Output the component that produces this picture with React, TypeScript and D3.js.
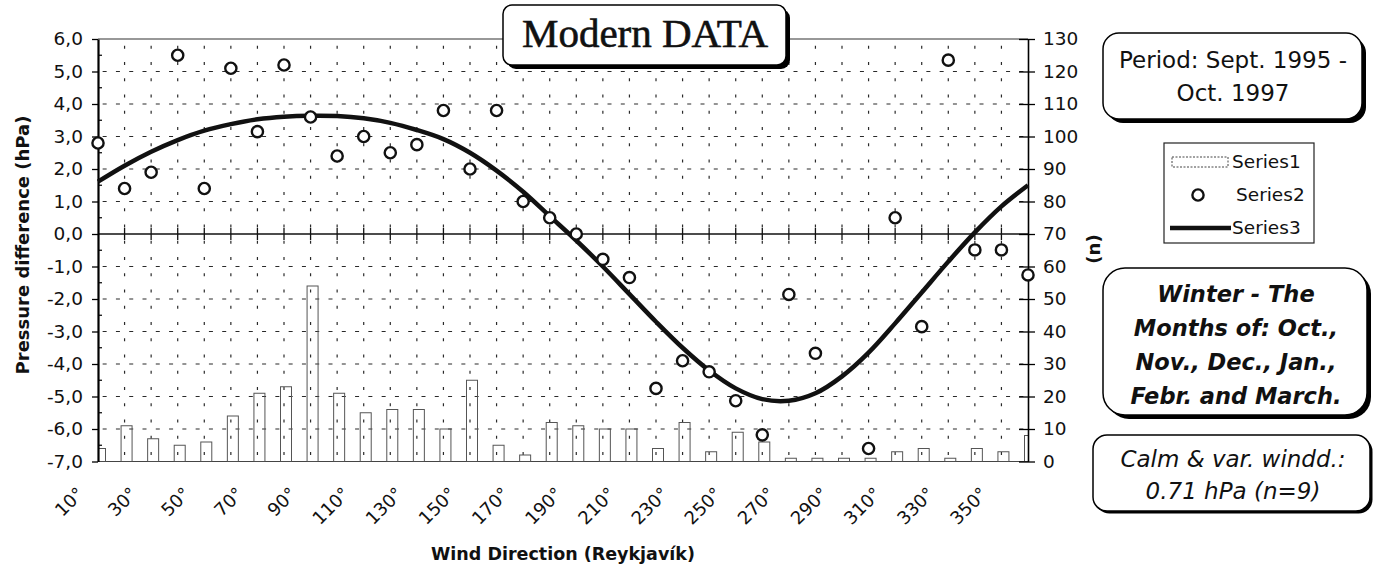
import React, { useEffect, useRef } from 'react'
import * as d3 from 'd3'

// wind direction categories (degrees)
const directions = [10, 20, 30, 40, 50, 60, 70, 80, 90, 100, 110, 120, 130, 140, 150, 160, 170, 180,
  190, 200, 210, 220, 230, 240, 250, 260, 270, 280, 290, 300, 310, 320, 330, 340, 350, 360]

// Series1: number of cases (right axis)
const counts = [4, 11, 7, 5, 6, 14, 21, 23, 54, 21, 15, 16, 16, 10, 25, 5, 2, 12,
  11, 10, 10, 4, 12, 3, 9, 6, 1, 1, 1, 1, 3, 4, 1, 4, 3, 8]

// Series2: measured pressure difference (hPa, left axis); null = no value
const pressure: (number | null)[] = [2.8, 1.4, 1.9, 5.5, 1.4, 5.1, 3.15, 5.2, 3.6, 2.4, 3.0, 2.5, 2.75, 3.8, 2.0, 3.8, 1.0, 0.5,
  0.0, -0.78, -1.34, -4.75, -3.9, -4.24, -5.13, -6.18, -1.86, -3.67, null, -6.6, 0.5, -2.85, 5.35, -0.49, -0.49, -1.26]

// Series3: fitted curve (hPa, left axis)
const fitted = [1.61, 2.1, 2.53, 2.89, 3.18, 3.38, 3.53, 3.61, 3.64, 3.63, 3.56, 3.42, 3.2, 2.92, 2.5, 1.95, 1.3, 0.55,
  -0.2, -1.0, -1.85, -2.7, -3.5, -4.2, -4.75, -5.08, -5.13, -4.9, -4.38, -3.65, -2.75, -1.8, -0.85, 0.05, 0.85, 1.5]

const leftTicks = [-7, -6, -5, -4, -3, -2, -1, 0, 1, 2, 3, 4, 5, 6]
const rightTicks = [0, 10, 20, 30, 40, 50, 60, 70, 80, 90, 100, 110, 120, 130]
const labelDirections = [10, 30, 50, 70, 90, 110, 130, 150, 170, 190, 210, 230, 250, 270, 290, 310, 330, 350]

const W = 1381
const H = 567
const plot = { left: 98, right: 1028, top: 39, bottom: 461.5 }
const sans = '"DejaVu Sans", sans-serif'

function box(g: any, x: number, y: number, w: number, h: number, r: number, sh: number) {
  g.append('rect').attr('x', x + sh).attr('y', y + sh).attr('width', w).attr('height', h)
    .attr('rx', r).attr('fill', '#000')
  g.append('rect').attr('x', x).attr('y', y).attr('width', w).attr('height', h)
    .attr('rx', r).attr('fill', '#fff').attr('stroke', '#000').attr('stroke-width', 1.5)
}

export default function App() {
  const ref = useRef<SVGSVGElement>(null)

  useEffect(() => {
    const svg = d3.select(ref.current)
    svg.selectAll('*').remove()

    const x = d3.scalePoint<number>().domain(directions).range([plot.left, plot.right])
    const step = x.step()
    const yL = d3.scaleLinear().domain([-7, 6]).range([plot.bottom, plot.top])
    const yR = d3.scaleLinear().domain([0, 130]).range([plot.bottom, plot.top])
    const unit = yL(0) - yL(1)

    svg.append('defs').append('clipPath').attr('id', 'plotClip').append('rect')
      .attr('x', plot.left).attr('y', plot.top)
      .attr('width', plot.right - plot.left).attr('height', plot.bottom - plot.top)

    // grid
    const grid = svg.append('g').attr('stroke', '#2a2a2a').attr('stroke-width', 1.2)
    grid.selectAll('line.h')
      .data(leftTicks.filter(v => v > -7 && v < 6 && v !== 0))
      .enter().append('line')
      .attr('x1', plot.left).attr('x2', plot.right)
      .attr('y1', d => yL(d)).attr('y2', d => yL(d))
      .attr('stroke-dasharray', `4,${step / 2 - 4}`)
      .attr('stroke-dashoffset', -(step / 4 - 2))
    grid.selectAll('line.v')
      .data(directions.slice(1, -1))
      .enter().append('line')
      .attr('x1', d => x(d)!).attr('x2', d => x(d)!)
      .attr('y1', plot.top).attr('y2', plot.bottom)
      .attr('stroke-dasharray', `3,${unit / 2 - 3}`)
      .attr('stroke-dashoffset', -(unit / 4 - 1.5))

    // frame
    svg.append('line').attr('x1', plot.left).attr('x2', plot.right)
      .attr('y1', plot.top).attr('y2', plot.top).attr('stroke', '#333').attr('stroke-width', 1.2)
    svg.append('line').attr('x1', plot.left).attr('x2', plot.right)
      .attr('y1', plot.bottom).attr('y2', plot.bottom).attr('stroke', '#444').attr('stroke-width', 1.2)

    // Series1 bars
    const barW = 11
    svg.append('g').attr('clip-path', 'url(#plotClip)')
      .selectAll('rect')
      .data(directions.map((d, i) => ({ d, n: counts[i] })))
      .enter().append('rect')
      .attr('x', v => x(v.d)! + 2 - barW / 2)
      .attr('y', v => yR(v.n))
      .attr('width', barW)
      .attr('height', v => yR(0) - yR(v.n))
      .attr('fill', 'none')
      .attr('stroke', '#555')
      .attr('stroke-width', 1)

    // zero axis with crossing ticks
    svg.append('line').attr('x1', plot.left).attr('x2', plot.right)
      .attr('y1', yL(0)).attr('y2', yL(0)).attr('stroke', '#111').attr('stroke-width', 1.5)
    svg.append('g').selectAll('line')
      .data(directions.slice(1, -1))
      .enter().append('line')
      .attr('x1', d => x(d)!).attr('x2', d => x(d)!)
      .attr('y1', yL(0) - 6).attr('y2', yL(0) + 6)
      .attr('stroke', '#111').attr('stroke-width', 1.3)

    // left axis
    const fmt = (v: number) => d3.format('.1f')(v).replace('.', ',').replace('−', '-')
    const gl = svg.append('g').attr('transform', `translate(${plot.left},0)`)
      .call(d3.axisLeft(yL).tickValues(leftTicks).tickSize(6).tickSizeOuter(0).tickPadding(9)
        .tickFormat(d => fmt(d as number)))
    gl.select('.domain').attr('stroke', '#000').attr('stroke-width', 2.2)
    gl.selectAll('.tick line').attr('stroke', '#000').attr('stroke-width', 1.3)
    gl.selectAll('.tick text').attr('font-family', sans).attr('font-size', 18.5).attr('fill', '#111')
    gl.selectAll('line.minor')
      .data(leftTicks.slice(0, -1))
      .enter().append('line').attr('class', 'minor')
      .attr('x1', 0).attr('x2', 4)
      .attr('y1', d => yL(d + 0.5)).attr('y2', d => yL(d + 0.5))
      .attr('stroke', '#000').attr('stroke-width', 1.2)

    // right axis
    const gr = svg.append('g').attr('transform', `translate(${plot.right},0)`)
      .call(d3.axisRight(yR).tickValues(rightTicks).tickSize(7).tickSizeOuter(0).tickPadding(8))
    gr.select('.domain').attr('stroke', '#000').attr('stroke-width', 1.6)
    gr.selectAll('.tick line').attr('x1', -9).attr('x2', 7).attr('stroke', '#000').attr('stroke-width', 1.3)
    gr.selectAll('.tick text').attr('font-family', sans).attr('font-size', 18.5).attr('fill', '#111')

    // Series3 fitted curve
    const line = d3.line<number>()
      .x((_, i) => x(directions[i])!)
      .y(v => yL(v))
      .curve(d3.curveCatmullRom)
    svg.append('path').datum(fitted).attr('d', line)
      .attr('fill', 'none').attr('stroke', '#111').attr('stroke-width', 4.5)

    // Series2 points
    svg.append('g').selectAll('circle')
      .data(directions.map((d, i) => ({ d, v: pressure[i] })).filter(p => p.v !== null))
      .enter().append('circle')
      .attr('cx', p => x(p.d)!)
      .attr('cy', p => yL(p.v as number))
      .attr('r', 5.6)
      .attr('fill', '#fff').attr('stroke', '#111').attr('stroke-width', 2.4)

    // x tick labels
    svg.append('g').selectAll('text')
      .data(labelDirections)
      .enter().append('text')
      .attr('transform', d => `translate(${x(d)! - 13},495) rotate(-45)`)
      .attr('text-anchor', 'end')
      .attr('font-family', sans).attr('font-size', 18).attr('fill', '#111')
      .text(d => `${d}°`)

    // axis titles
    svg.append('text').attr('x', (plot.left + plot.right) / 2).attr('y', 560)
      .attr('text-anchor', 'middle').attr('font-family', sans).attr('font-size', 17.5)
      .attr('font-weight', 'bold').attr('fill', '#111').text('Wind Direction (Reykjavík)')
    svg.append('text').attr('transform', 'translate(28.5,245) rotate(-90)')
      .attr('text-anchor', 'middle').attr('font-family', sans).attr('font-size', 18)
      .attr('font-weight', 'bold').attr('fill', '#111').text('Pressure difference (hPa)')
    svg.append('text').attr('transform', 'translate(1100,249) rotate(-90)')
      .attr('text-anchor', 'middle').attr('font-family', sans).attr('font-size', 18)
      .attr('font-weight', 'bold').attr('fill', '#111').text('(n)')

    // title box
    const tb = svg.append('g')
    box(tb, 503, 5, 283, 60, 9, 4)
    tb.append('text').attr('x', 645).attr('y', 47).attr('text-anchor', 'middle')
      .attr('font-family', '"Liberation Serif", serif').attr('font-size', 41)
      .attr('fill', '#111').attr('stroke', '#111').attr('stroke-width', 0.6)
      .text('Modern DATA')

    // period box
    const pb = svg.append('g')
    box(pb, 1103, 33, 259, 86, 16, 4)
    pb.selectAll('text').data(['Period: Sept. 1995 -', 'Oct. 1997']).enter().append('text')
      .attr('x', 1233).attr('y', (_, i) => 68 + i * 33).attr('text-anchor', 'middle')
      .attr('font-family', sans).attr('font-size', 23).attr('fill', '#111').text(d => d)

    // legend
    const lg = svg.append('g')
    lg.append('rect').attr('x', 1164).attr('y', 143).attr('width', 150).attr('height', 100)
      .attr('fill', '#fff').attr('stroke', '#222').attr('stroke-width', 1.2)
    lg.append('rect').attr('x', 1172).attr('y', 157).attr('width', 56).attr('height', 10)
      .attr('fill', 'none').attr('stroke', '#444').attr('stroke-width', 1).attr('stroke-dasharray', '2,1.5')
    lg.append('circle').attr('cx', 1198).attr('cy', 195).attr('r', 5.6)
      .attr('fill', '#fff').attr('stroke', '#111').attr('stroke-width', 2.4)
    lg.append('line').attr('x1', 1170).attr('x2', 1231).attr('y1', 228).attr('y2', 228)
      .attr('stroke', '#111').attr('stroke-width', 4.5)
    lg.selectAll('text').data(['Series1', 'Series2', 'Series3']).enter().append('text')
      .attr('x', (_, i) => (i === 1 ? 1236 : 1232)).attr('y', (_, i) => 168 + i * 33)
      .attr('font-family', sans).attr('font-size', 18.5).attr('fill', '#111').text(d => d)

    // season box
    const wb = svg.append('g')
    box(wb, 1103, 268, 264, 147, 22, 4)
    wb.selectAll('text')
      .data(['Winter - The', 'Months of: Oct.,', 'Nov., Dec., Jan.,', 'Febr. and March.'])
      .enter().append('text')
      .attr('x', 1236).attr('y', (_, i) => 302 + i * 34).attr('text-anchor', 'middle')
      .attr('font-family', sans).attr('font-size', 22.5).attr('font-weight', 'bold').attr('font-style', 'italic')
      .attr('fill', '#111').text(d => d)

    // calm box
    const cb = svg.append('g')
    box(cb, 1093, 435, 277, 76, 14, 2.5)
    cb.selectAll('text').data(['Calm & var. windd.:', '0.71 hPa (n=9)']).enter().append('text')
      .attr('x', 1233).attr('y', (_, i) => 467 + i * 32).attr('text-anchor', 'middle')
      .attr('font-family', sans).attr('font-size', 23).attr('font-style', 'italic')
      .attr('fill', '#111').text(d => d)
  }, [])

  return (
    <svg ref={ref} width={W} height={H}
      style={{ position: 'absolute', left: 0, top: 0, background: '#fff' }} />
  )
}
